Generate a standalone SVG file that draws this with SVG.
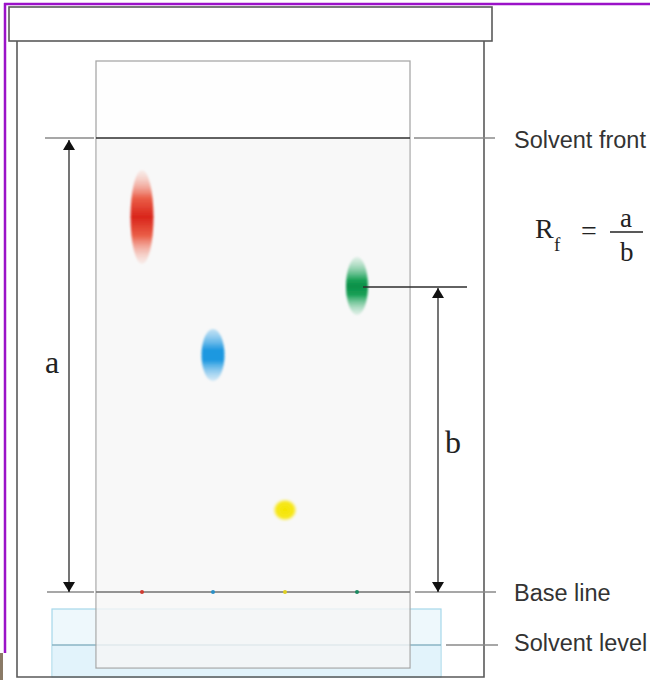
<svg xmlns="http://www.w3.org/2000/svg" width="650" height="680" viewBox="0 0 650 680">
  <defs>
    <style>
      .jar { fill: none; stroke: #5a5a5a; stroke-width: 1.6; }
      .guide { stroke: #8a8a8a; stroke-width: 1.3; fill: none; }
      .dark { stroke: #2e2e2e; stroke-width: 1.4; fill: none; }
      .dim { stroke: #1a1a1a; stroke-width: 1.2; fill: none; }
      .label { font-family: "Liberation Sans", Arial, sans-serif; font-size: 23.5px; fill: #333; }
      .math { font-family: "Liberation Serif", "Times New Roman", serif; fill: #222; }
    </style>
    <marker id="head" viewBox="0 0 10 12" refX="10" refY="6" markerWidth="10" markerHeight="12" markerUnits="userSpaceOnUse" orient="auto">
      <path d="M0,0 L10,6 L0,12 Z" fill="#111"/>
    </marker>
    <filter id="soft" x="-50%" y="-50%" width="200%" height="200%">
      <feGaussianBlur stdDeviation="1.3"/>
    </filter>
    <linearGradient id="gRed" x1="0" y1="0" x2="0" y2="1">
      <stop offset="0" stop-color="#f7c9bd" stop-opacity="0.25"/>
      <stop offset="0.3" stop-color="#ea5e48"/>
      <stop offset="0.5" stop-color="#d9251a"/>
      <stop offset="0.7" stop-color="#ea5e48"/>
      <stop offset="1" stop-color="#f7c9bd" stop-opacity="0.25"/>
    </linearGradient>
    <linearGradient id="gGreen" x1="0" y1="0" x2="0" y2="1">
      <stop offset="0" stop-color="#a8dcc0" stop-opacity="0.3"/>
      <stop offset="0.4" stop-color="#16a055"/>
      <stop offset="0.5" stop-color="#0c8f48"/>
      <stop offset="0.65" stop-color="#16a055"/>
      <stop offset="1" stop-color="#a8dcc0" stop-opacity="0.3"/>
    </linearGradient>
    <linearGradient id="gBlue" x1="0" y1="0" x2="0" y2="1">
      <stop offset="0" stop-color="#8ccbf0" stop-opacity="0.5"/>
      <stop offset="0.4" stop-color="#1e98e0"/>
      <stop offset="0.6" stop-color="#1e98e0"/>
      <stop offset="1" stop-color="#9fd3f3" stop-opacity="0.4"/>
    </linearGradient>
    <radialGradient id="gYellow">
      <stop offset="0" stop-color="#f4e400"/>
      <stop offset="0.75" stop-color="#f7e820"/>
      <stop offset="1" stop-color="#fbf3a0" stop-opacity="0.3"/>
    </radialGradient>
  </defs>

  <rect width="650" height="680" fill="#fff"/>

  <!-- frame -->
  <g id="frame">
    <line x1="4" y1="4" x2="650" y2="4" stroke="#9b12c8" stroke-width="2.5"/>
    <line x1="5" y1="3" x2="5" y2="653" stroke="#9b12c8" stroke-width="2.5"/>
    <rect x="0" y="653" width="3" height="27" fill="#8a7a66"/>
  </g>

  <!-- solvent in the tank -->
  <g id="solvent">
    <rect x="52" y="609" width="389" height="68" fill="#eef8fc" stroke="#a6d8ea" stroke-width="1.2"/>
    <rect x="52.6" y="645" width="387.8" height="31.5" fill="#e2f3fb"/>
    <line x1="52" y1="645" x2="441" y2="645" stroke="#8ab4c4" stroke-width="1.3"/>
  </g>

  <!-- chromatography paper -->
  <g id="paper">
    <rect x="96" y="61" width="314" height="607" fill="#fdfdfd" fill-opacity="0.5" stroke="#a8a8a8" stroke-width="1.3"/>
    <rect x="96.7" y="138" width="312.6" height="529.3" fill="#f3f3f3" fill-opacity="0.6"/>
  </g>

  <!-- tank -->
  <g id="tank">
    <polyline class="jar" points="17,41 17,677 484,677 484,41"/>
    <rect class="jar" x="9" y="7" width="483" height="34" fill="#fff"/>
  </g>

  <!-- spots -->
  <g id="spots" filter="url(#soft)">
    <ellipse cx="142" cy="217" rx="11.5" ry="47" fill="url(#gRed)"/>
    <ellipse cx="357" cy="286" rx="11" ry="29" fill="url(#gGreen)"/>
    <ellipse cx="213" cy="355" rx="11.5" ry="26" fill="url(#gBlue)"/>
    <ellipse cx="285" cy="510" rx="12" ry="11" fill="url(#gYellow)"/>
  </g>

  <!-- reference lines and measurements -->
  <g id="connectors">
    <line class="guide" x1="45" y1="138" x2="94" y2="138"/>
    <line class="dark" x1="96" y1="138" x2="410" y2="138"/>
    <line class="guide" x1="414" y1="138" x2="495" y2="138"/>

    <line class="guide" x1="47" y1="592" x2="94" y2="592"/>
    <line x1="96" y1="592" x2="410" y2="592" stroke="#727272" stroke-width="1.6"/>
    <line class="guide" x1="415" y1="592" x2="496" y2="592"/>

    <line class="guide" x1="446" y1="645" x2="498" y2="645"/>

    <line class="dark" x1="363" y1="287" x2="467" y2="287"/>

    <line class="dim" x1="69" y1="365" x2="69" y2="140" marker-end="url(#head)"/>
    <line class="dim" x1="69" y1="365" x2="69" y2="592" marker-end="url(#head)"/>
    <line class="dim" x1="438" y1="440" x2="438" y2="288" marker-end="url(#head)"/>
    <line class="dim" x1="438" y1="440" x2="438" y2="592" marker-end="url(#head)"/>
  </g>

  <!-- sample points on the base line -->
  <g id="origin-dots">
    <circle cx="142" cy="592" r="2" fill="#d03a30"/>
    <circle cx="213" cy="592" r="2" fill="#2a90c8"/>
    <circle cx="285" cy="592" r="2" fill="#e0d020"/>
    <circle cx="357" cy="592" r="2" fill="#1a8a60"/>
  </g>

  <!-- labels -->
  <g id="labels">
    <text class="label" x="514" y="148">Solvent front</text>
    <text class="label" x="514" y="601">Base line</text>
    <text class="label" x="514" y="651">Solvent level</text>
    <text class="math" x="45" y="373" font-size="32">a</text>
    <text class="math" x="445" y="453" font-size="32">b</text>
  </g>

  <!-- Rf formula -->
  <g id="formula" class="math">
    <text x="535" y="238" font-size="28">R</text>
    <text x="554" y="251" font-size="19">f</text>
    <text x="581" y="240" font-size="28">=</text>
    <line x1="610" y1="232" x2="643" y2="232" stroke="#222" stroke-width="1.4"/>
    <text x="620" y="227" font-size="27">a</text>
    <text x="620" y="261" font-size="27">b</text>
  </g>
</svg>
